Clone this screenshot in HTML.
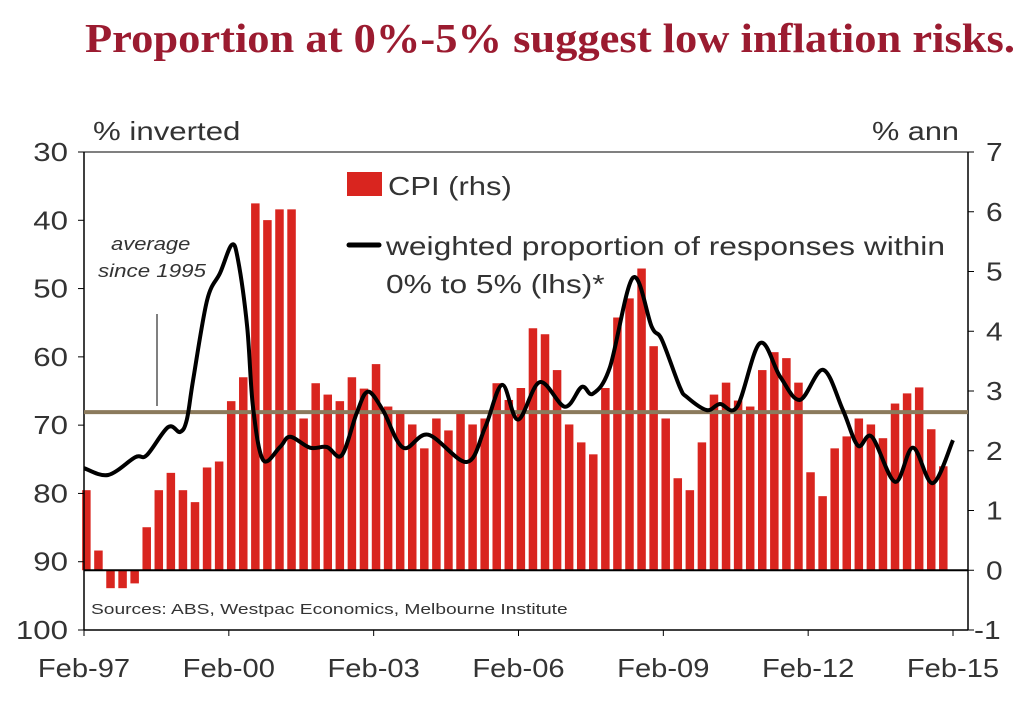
<!DOCTYPE html>
<html><head><meta charset="utf-8"><style>
body{margin:0;background:#fff;}
svg text{font-family:"Liberation Sans",sans-serif;}
</style></head><body>
<svg id="chart" width="1032" height="706" xmlns="http://www.w3.org/2000/svg">
<text x="85" y="52" textLength="930" lengthAdjust="spacingAndGlyphs" style="font-family:'Liberation Serif',serif;font-weight:bold;font-size:41px;fill:#9B1B30">Proportion at 0%-5% suggest low inflation risks.</text>
<text class="st" data-f="1.2" x="93" y="140" font-size="26" fill="#333">% inverted</text>
<text class="st" data-f="1.18" x="872" y="140" font-size="26" fill="#333">% ann</text>
<g id="bars"></g>
<g id="axes"></g>
<g id="lines"></g>
<text class="st" data-f="1.22" x="111" y="250" font-size="18" font-style="italic" fill="#333">average</text>
<text class="st" data-f="1.24" x="98" y="277" font-size="18" font-style="italic" fill="#333">since 1995</text>
<line x1="157" y1="314" x2="157" y2="406" stroke="#000" stroke-width="1"/>
<rect x="347" y="172" width="35" height="24" fill="#D9251F"/>
<text class="st" data-f="1.19" x="388" y="195" font-size="26" fill="#333">CPI (rhs)</text>
<line x1="349" y1="245" x2="379" y2="245" stroke="#000" stroke-width="5" stroke-linecap="round"/>
<text class="st" data-f="1.22" x="386" y="255" font-size="26" fill="#333">weighted proportion of responses within</text>
<text class="st" data-f="1.22" x="386" y="293" font-size="26" fill="#333">0% to 5% (lhs)*</text>
<text class="st" data-f="1.28" x="91" y="614" font-size="15" fill="#333">Sources: ABS, Westpac Economics, Melbourne Institute</text>
</svg>
<script>
const cpiValues=[1.34,0.33,-0.3,-0.3,-0.22,0.72,1.34,1.63,1.34,1.14,1.72,1.82,2.83,3.23,6.14,5.86,6.04,6.04,2.54,3.13,2.94,2.83,3.23,3.04,3.45,2.74,2.64,2.44,2.04,2.54,2.34,2.63,2.44,2.54,3.13,2.85,3.05,4.05,3.95,3.35,2.44,2.14,1.94,3.05,4.23,4.55,5.05,3.75,2.54,1.54,1.34,2.14,2.94,3.14,2.84,2.74,3.35,3.65,3.55,3.14,1.64,1.24,2.04,2.24,2.54,2.44,2.21,2.79,2.96,3.06,2.36,1.74];
const lineTimes=[0,0.5,1.06,1.3,1.74,1.99,2.13,2.26,2.55,2.82,3.06,3.19,3.38,3.5,3.71,4.06,4.27,4.68,5.03,5.34,5.65,5.88,6.19,6.61,7.13,7.93,8.31,8.66,8.99,9.44,9.96,10.31,10.54,10.89,11.37,11.76,11.97,12.34,12.49,12.9,13.17,13.53,14.0,14.42,14.83,15.31,15.72,16.03,16.32,16.8,17.17,17.58,18.0];
const lineValues=[76.3,77.3,74.7,74.4,70.3,71.0,69.2,63.4,51.7,47.7,43.6,45.8,55.6,67.3,75.1,73.2,71.7,73.3,73.2,74.4,68.2,65.1,67.8,73.3,71.4,75.4,70.3,64.1,69.2,63.7,67.3,64.4,65.4,61.6,48.4,55.6,57.5,64.4,65.9,67.8,66.9,67.3,58.0,62.9,66.3,61.9,67.8,73.0,71.7,78.3,73.3,78.5,72.2];
const averageValue=68.1;
const leftTicks=[30,40,50,60,70,80,90,100];
const rightTicks=[7,6,5,4,3,2,1,0,-1];
const xTickLabels=["Feb-97","Feb-00","Feb-03","Feb-06","Feb-09","Feb-12","Feb-15"];
const xTickYears=[0,3,6,9,12,15,18];
const L=84,R=968,T=152,B=630,X0=84,X1=953;
const yL=v=>T+(v-30)/70*(B-T);
const yR=v=>T+(7-v)/8*(B-T);
const xT=t=>X0+t/18*(X1-X0);
const NS="http://www.w3.org/2000/svg";
function mk(tag,attrs,parent,txt){const e=document.createElementNS(NS,tag);for(const k in attrs)e.setAttribute(k,attrs[k]);if(txt!==undefined)e.textContent=txt;parent.appendChild(e);return e;}
function stretch(t,f,anchor){const w=t.getComputedTextLength();t.setAttribute('textLength',w*f);t.setAttribute('lengthAdjust','spacingAndGlyphs');
if(anchor==='end'){t.setAttribute('text-anchor','start');t.setAttribute('x',parseFloat(t.getAttribute('x'))-w*f);}
if(anchor==='middle'){t.setAttribute('text-anchor','start');t.setAttribute('x',parseFloat(t.getAttribute('x'))-w*f/2);}}
const bars=document.getElementById('bars'),axes=document.getElementById('axes'),lines=document.getElementById('lines');
cpiValues.forEach((v,i)=>{const cx=xT((i+0.3)*0.25)+1;const y0=yR(0),y1=yR(v);
const r=mk('rect',{x:cx-6.5,y:Math.min(y0,y1),width:8.5,height:Math.abs(y1-y0),fill:'#D9251F'},bars);

});
const z=mk('line',{x1:L,x2:R,y1:yR(0),y2:yR(0),stroke:'#000','stroke-width':2},axes);


const av=mk('line',{x1:L,x2:R,y1:yL(averageValue),y2:yL(averageValue),stroke:'#8B7A5C','stroke-width':4},lines);


const pts=lineTimes.map((t,i)=>[xT(t),yL(lineValues[i])]);
let d='M'+pts[0][0]+','+pts[0][1];
for(let i=0;i<pts.length-1;i++){const p0=pts[Math.max(0,i-1)],p1=pts[i],p2=pts[i+1],p3=pts[Math.min(pts.length-1,i+2)];
d+=' C'+(p1[0]+(p2[0]-p0[0])/6)+','+(p1[1]+(p2[1]-p0[1])/6)+' '+(p2[0]-(p3[0]-p1[0])/6)+','+(p2[1]-(p3[1]-p1[1])/6)+' '+p2[0]+','+p2[1];}
const ln=mk('path',{d:d,fill:'none',stroke:'#000','stroke-width':4,'stroke-linejoin':'round'},lines);


mk('line',{x1:L,x2:L,y1:T,y2:B,stroke:'#000','stroke-width':1.5},axes);
mk('line',{x1:R,x2:R,y1:T,y2:B,stroke:'#000','stroke-width':1.5},axes);
mk('line',{x1:L,x2:R,y1:B,y2:B,stroke:'#000','stroke-width':1.5},axes);
mk('line',{x1:L,x2:R,y1:T,y2:T,stroke:'#000','stroke-width':1},axes);
leftTicks.forEach(v=>{const y=yL(v);mk('line',{x1:L-6,x2:L,y1:y,y2:y,stroke:'#000'},axes);
const t=mk('text',{x:68,y:y+9,'font-size':26,fill:'#333','text-anchor':'end'},axes,v);


stretch(t,1.2,'end');});
rightTicks.forEach(v=>{const y=yR(v);mk('line',{x1:R,x2:R+6,y1:y,y2:y,stroke:'#000'},axes);
const t=mk('text',{x:v<0?974:986,y:y+9,'font-size':26,fill:'#333'},axes,v);


stretch(t,1.15);});
xTickYears.forEach((yr,i)=>{const x=xT(yr);mk('line',{x1:x,x2:x,y1:B,y2:B+6,stroke:'#000'},axes);
const t=mk('text',{x:x,y:677,'font-size':26,fill:'#333','text-anchor':'middle'},axes,xTickLabels[i]);


stretch(t,1.12,'middle');});
document.querySelectorAll('text.st').forEach(t=>stretch(t,parseFloat(t.getAttribute('data-f'))));
</script>
</body></html>
